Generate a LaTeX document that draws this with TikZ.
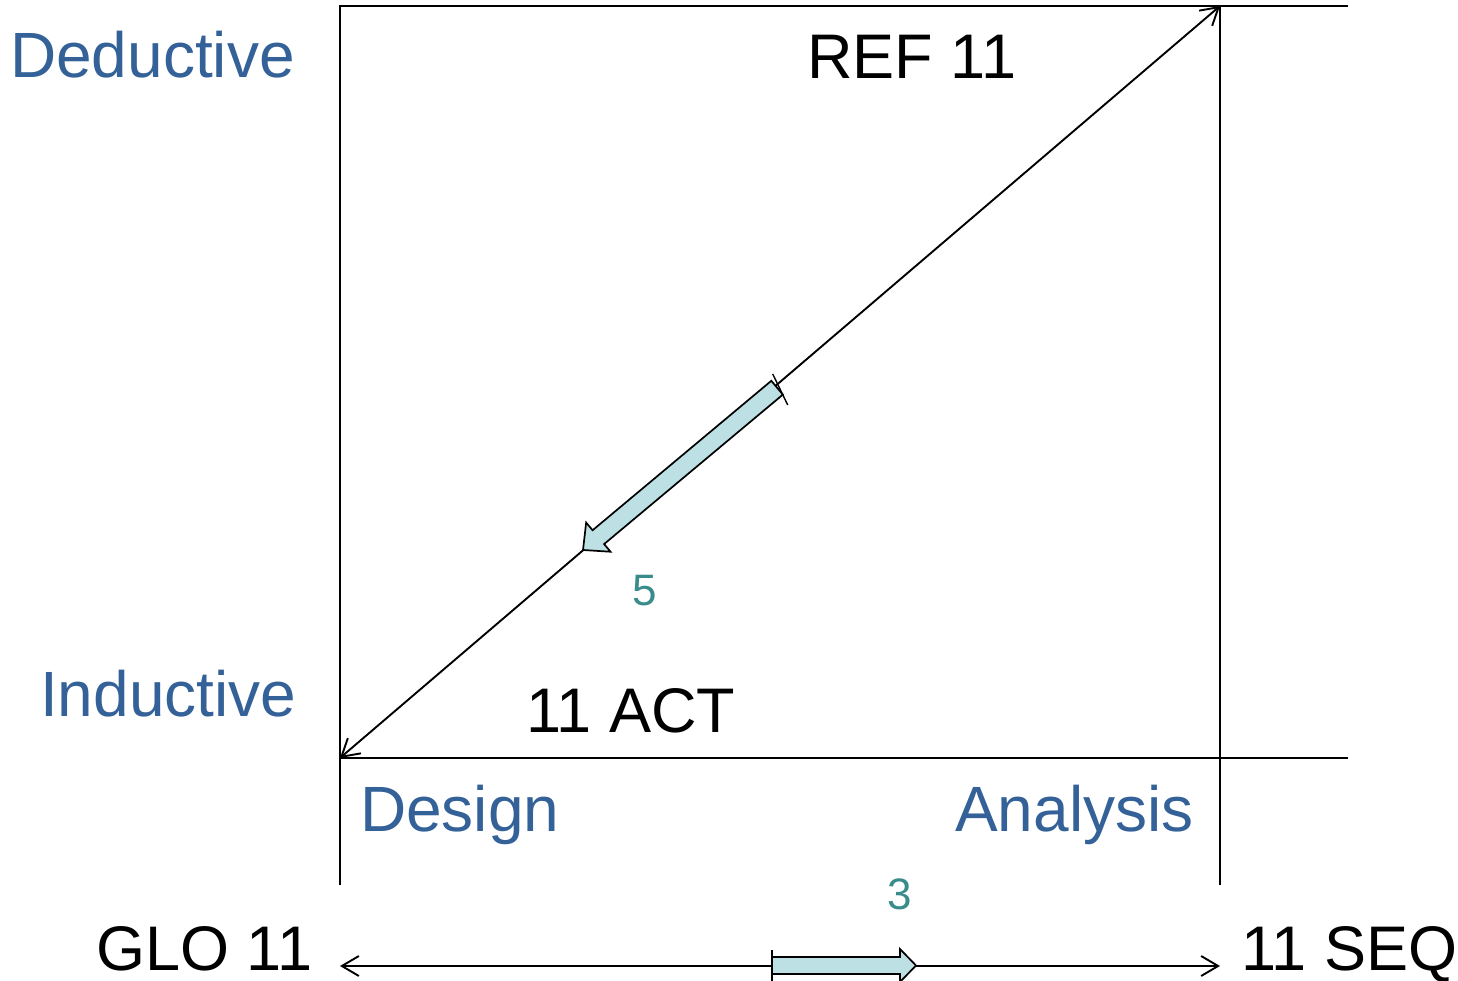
\documentclass[tikz,border=0pt]{standalone}
\usepackage{fontspec}
\setmainfont{Liberation Sans}
\usetikzlibrary{arrows.meta}
\definecolor{axisblue}{RGB}{51,97,152}
\definecolor{numteal}{RGB}{58,140,140}
\definecolor{arrowfill}{RGB}{188,224,227}
\tikzset{
  frame/.style={line width=2pt},
  conn/.style={line width=1.9pt, {Straight Barb[length=17pt,width=20pt]}-{Straight Barb[length=17pt,width=20pt]}},
  blockarrow/.style={line width=1.7pt, fill=arrowfill, line join=miter},
  bigblack/.style={inner sep=0pt, anchor=base west, font=\fontsize{63}{70}\selectfont},
  bigblue/.style={inner sep=0pt, anchor=base west, text=axisblue, font=\fontsize{64}{70}\selectfont},
  num/.style={inner sep=0pt, text=numteal, font=\fontsize{44}{50}\selectfont}
}
\begin{document}
\begin{tikzpicture}[x=1pt,y=1pt]
\useasboundingbox (0,0) rectangle (1458,980);
% frame coordinates
\coordinate (TL) at (340,974);
\coordinate (TE) at (1348,974);
\coordinate (BL) at (340,222);
\coordinate (BE) at (1348,222);
\coordinate (LB) at (340,95);
\coordinate (TR) at (1220,974);
\coordinate (RB) at (1220,95);
\coordinate (GL) at (340,14);
\coordinate (GR) at (1220,14);
% frame lines
\draw[frame] (LB) -- (TL) -- (TE);
\draw[frame] (BL) -- (BE);
\draw[frame] (TR) -- (RB);
% diagonal double arrow
\draw[conn] (BL) -- (TR);
% bottom double arrow
\draw[conn] (GL) -- (GR);
% diagonal block arrow
\begin{scope}[shift={(583,430)}, rotate=39.9]
\draw[blockarrow] (0,0) -- (20,19) -- (20,9) -- (253,9) -- (253,-9) -- (20,-9) -- (20,-19) -- cycle;
\end{scope}
\coordinate (TK1) at (772.7,606);
\coordinate (TK2) at (787.7,575);
\draw[line width=1.4pt] (TK1) -- (TK2);
% bottom block arrow
\draw[blockarrow] (772,6) -- (772,23) -- (900,23) -- (900,31) -- (916,14.5) -- (900,-2) -- (900,6) -- cycle;
\coordinate (BK1) at (772,30);
\coordinate (BK2) at (772,-5);
\draw[line width=2pt] (BK1) -- (BK2);
% labels
\node[bigblue] (ded) at (10,902) {Deductive};
\node[bigblue] (ind) at (40,263) {Inductive};
\node[bigblue] (des) at (360,149) {Design};
\node[bigblue] (ana) at (955,149) {Analysis};
\node[bigblack] (ref) at (807,901) {REF 11};
\node[bigblack] (act) at (526,247) {11 ACT};
\node[bigblack] (glo) at (96,10) {GLO 11};
\node[bigblack] (seq) at (1241,10) {11 SEQ};
\node[num] (five) at (645,389) {5};
\node[num] (three) at (900,86) {3};
\end{tikzpicture}
\end{document}
